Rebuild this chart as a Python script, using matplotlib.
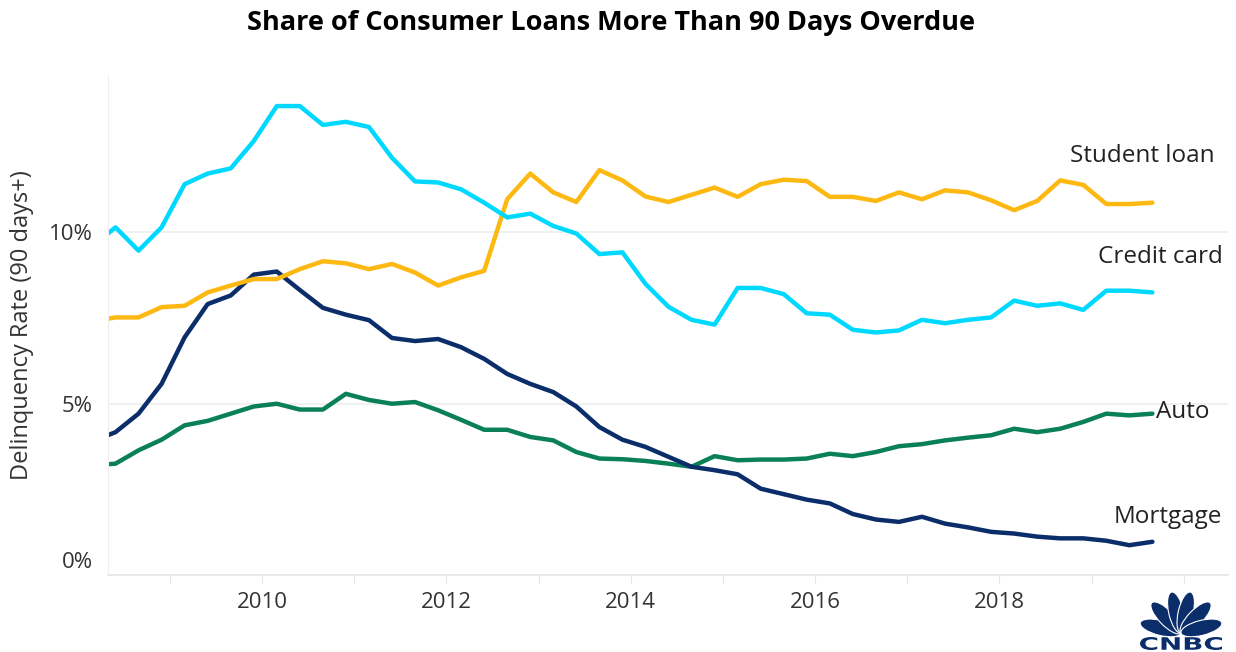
import math
import matplotlib.pyplot as plt
import matplotlib.transforms as mtransforms
from matplotlib.patches import Ellipse, PathPatch
from matplotlib.textpath import TextPath
from matplotlib.font_manager import FontProperties

# ---- Data: quarterly, 2008Q1 .. 2019Q3 (% of balance 90+ days delinquent) ----
quarters = [f"{y}Q{q}" for y in range(2008, 2020) for q in range(1, 5)][:47]

credit_card = [9.60, 10.15, 9.47, 10.15, 11.41, 11.72, 11.87, 12.67, 13.69, 13.69,
               13.14, 13.23, 13.08, 12.18, 11.49, 11.46, 11.26, 10.87, 10.44, 10.55,
               10.19, 9.97, 9.37, 9.42, 8.50, 7.83, 7.45, 7.31, 8.38, 8.38,
               8.20, 7.64, 7.60, 7.16, 7.08, 7.14, 7.45, 7.35, 7.45, 7.52,
               8.01, 7.86, 7.93, 7.74, 8.30, 8.30, 8.25]

student_loan = [7.40, 7.52, 7.52, 7.82, 7.86, 8.25, 8.45, 8.64, 8.64, 8.93,
                9.16, 9.10, 8.93, 9.08, 8.83, 8.45, 8.69, 8.88, 10.97, 11.72,
                11.17, 10.89, 11.82, 11.52, 11.05, 10.89, 11.10, 11.31, 11.04, 11.41,
                11.54, 11.50, 11.04, 11.04, 10.92, 11.17, 10.97, 11.23, 11.17, 10.94,
                10.65, 10.92, 11.52, 11.39, 10.83, 10.83, 10.87]

mortgage = [3.90, 4.17, 4.71, 5.58, 6.94, 7.91, 8.16, 8.77, 8.86, 8.32,
            7.80, 7.60, 7.44, 6.92, 6.83, 6.89, 6.65, 6.31, 5.87, 5.58,
            5.34, 4.92, 4.32, 3.95, 3.74, 3.45, 3.16, 3.06, 2.94, 2.52,
            2.36, 2.20, 2.09, 1.78, 1.62, 1.55, 1.70, 1.50, 1.39, 1.26,
            1.21, 1.12, 1.07, 1.07, 1.00, 0.87, 0.97]

auto = [3.20, 3.25, 3.64, 3.95, 4.37, 4.50, 4.71, 4.92, 5.00, 4.83,
        4.83, 5.29, 5.11, 5.00, 5.05, 4.81, 4.53, 4.24, 4.24, 4.03,
        3.93, 3.59, 3.40, 3.38, 3.33, 3.25, 3.16, 3.47, 3.35, 3.37,
        3.37, 3.40, 3.54, 3.47, 3.59, 3.76, 3.82, 3.93, 4.01, 4.08,
        4.27, 4.17, 4.27, 4.47, 4.71, 4.66, 4.71]

# quarter label -> fractional year position on the axis
x = [int(q[:4]) + (int(q[-1]) - 1) / 4 + 0.16 for q in quarters]

year_ticks = list(range(2009, 2021))
year_labels = [str(y) if y % 2 == 0 and y < 2020 else "" for y in year_ticks]

colors = {
    "Credit card": "#00D9FF",
    "Student loan": "#FDB812",
    "Mortgage": "#0B2E6B",
    "Auto": "#0A8056",
}
FONT = "Open Sans"

# ---- Figure ----
fig = plt.figure(figsize=(12.36, 6.52), dpi=100)
ax = fig.add_axes([0.0874, 0.1181, 0.9061, 0.767])

ax.plot(x, auto, color=colors["Auto"], lw=3.2, solid_capstyle="round")
ax.plot(x, mortgage, color=colors["Mortgage"], lw=3.2, solid_capstyle="round")
ax.plot(x, student_loan, color=colors["Student loan"], lw=3.2, solid_capstyle="round")
ax.plot(x, credit_card, color=colors["Credit card"], lw=3.2, solid_capstyle="round")

ax.set_xlim(2008.329, 2020.48)
ax.set_ylim(0, 14.6)

# ---- Axes styling ----
for side in ["top", "right"]:
    ax.spines[side].set_visible(False)
ax.spines["left"].set_color("#EEEEEE")
ax.spines["bottom"].set_color("#E6E6E6")
ax.spines["bottom"].set_linewidth(1.2)

ax.set_yticks([0, 5, 10])
ax.set_yticklabels(["0%", "5%", "10%"])
ax.yaxis.grid(True, color="#EEEEEE", lw=1.2)
ax.set_axisbelow(True)
ax.tick_params(axis="y", length=0, pad=11, labelsize=16, labelcolor="#333333")

ax.set_xticks(year_ticks)
ax.set_xticklabels(year_labels)
ax.tick_params(axis="x", length=6, color="#E6E6E6", pad=6, labelsize=16,
               labelcolor="#333333")

for lab in ax.get_yticklabels() + ax.get_xticklabels():
    lab.set_family(FONT)

# raise the 0% label a little, like the original
zero = ax.get_yticklabels()[0]
zero.set_transform(zero.get_transform() +
                   mtransforms.ScaledTranslation(0, 15 / 100, fig.dpi_scale_trans))

ax.set_ylabel("Delinquency Rate (90 days+)", fontsize=17, color="#333333",
              family=FONT)
ax.yaxis.set_label_coords(-0.066, 0.5)

# ---- Series labels ----
lab_kw = dict(fontsize=17.5, color="#222222", family=FONT, va="center")
ax.text(2020.34, 12.24, "Student loan", ha="right", **lab_kw)
ax.text(2020.42, 9.27, "Credit card", ha="right", **lab_kw)
ax.text(2019.70, 4.75, "Auto", ha="left", **lab_kw)
ax.text(2020.42, 1.69, "Mortgage", ha="right", **lab_kw)

# ---- Title ----
fig.text(0.494, 0.965, "Share of Consumer Loans More Than 90 Days Overdue",
         ha="center", va="center", fontsize=19.5, fontweight="bold",
         family=FONT, color="black")

# ---- CNBC mark (simple peacock + wordmark), drawn in pixel units ----
logo = fig.add_axes([1136 / 1236, 1 / 652, 90 / 1236, 64 / 652])
logo.set_xlim(0, 90)
logo.set_ylim(0, 64)
logo.axis("off")
navy = "#0B2E6B"
for ang in [166, 134, 103, 77, 46, 14]:
    r = math.radians(ang)
    logo.add_patch(Ellipse((45 + 21 * math.cos(r), 18 + 21 * math.sin(r)),
                           15, 42, angle=ang - 90, facecolor=navy,
                           edgecolor="white", lw=0.8))
word = TextPath((0, 0), "CNBC", size=10,
                prop=FontProperties(family="DejaVu Sans", weight="bold"))
bb = word.get_extents()
sx = 82 / bb.width
sy = 13 / bb.height
tr = mtransforms.Affine2D().translate(-bb.x0, -bb.y0).scale(sx, sy).translate(4, 1)
logo.add_patch(PathPatch(tr.transform_path(word), facecolor=navy, edgecolor="none"))

plt.savefig("out.png", dpi=100)
